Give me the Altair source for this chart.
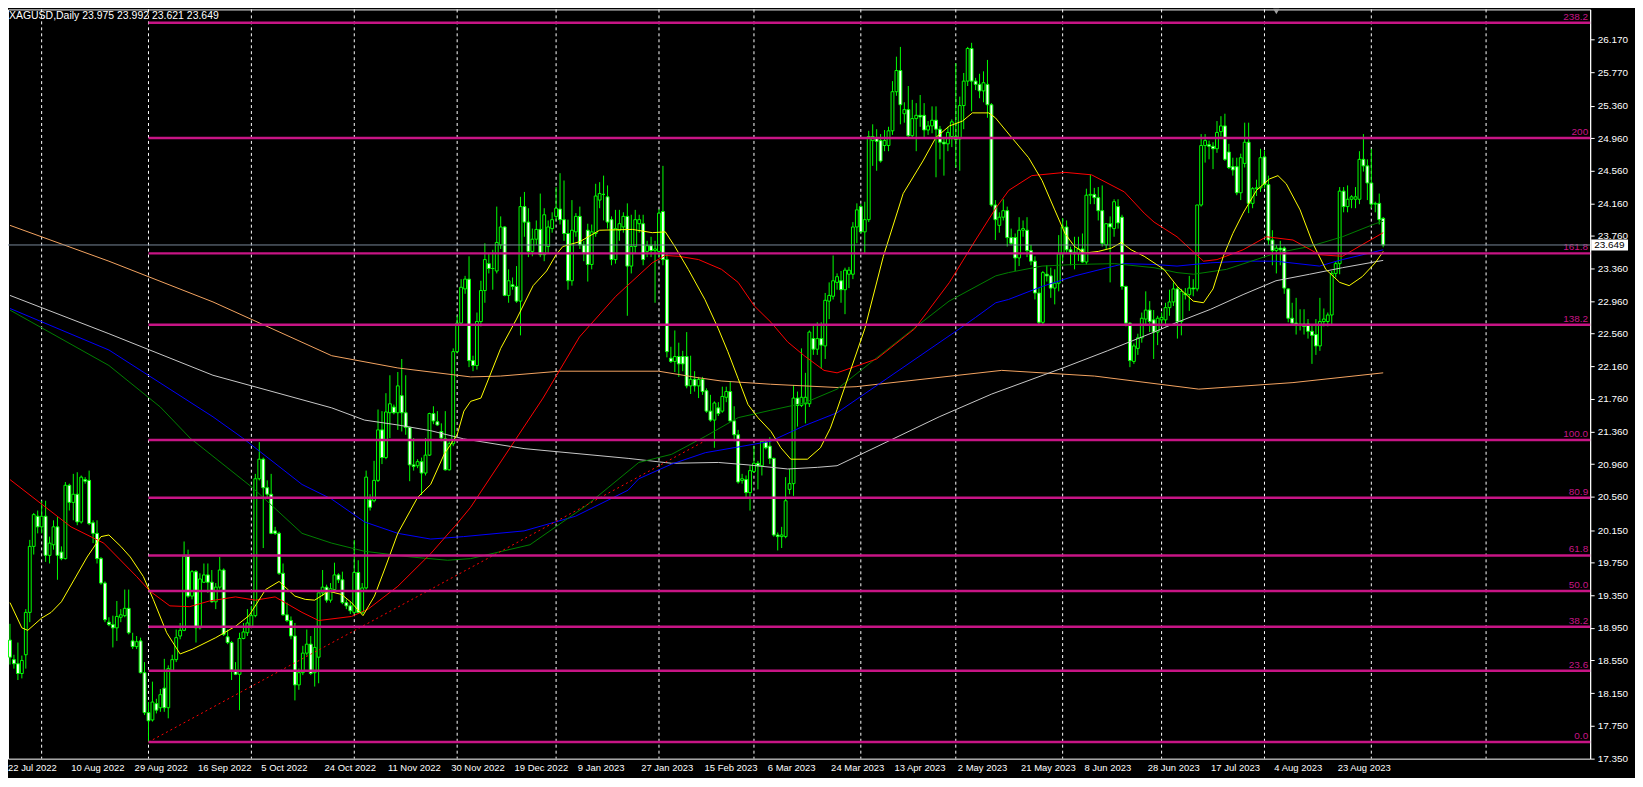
import altair as alt
import pandas as pd

symbol_header = "XAGUSD,Daily  23.975 23.992 23.621 23.649"

bar_open = [
18.80, 18.56, 18.51, 18.39, 18.62, 19.14, 19.95, 20.32, 20.19, 20.32,
19.84, 19.97, 20.19, 19.88, 19.80, 20.70, 20.49, 20.59, 20.25, 20.77,
20.76, 20.24, 20.11, 19.80, 19.50, 19.02, 18.99, 18.95, 19.08, 19.10,
19.19, 18.79, 18.72, 18.79, 18.40, 17.91, 17.82, 18.02, 17.97, 18.21,
17.97, 18.43, 18.56, 18.85, 18.92, 19.83, 19.34, 19.64, 18.95, 19.51,
19.60, 19.51, 19.27, 19.45, 19.66, 18.84, 18.77, 18.43, 18.38, 18.82,
18.89, 18.97, 19.10, 20.78, 21.02, 20.67, 20.59, 20.14, 20.11, 19.62,
19.11, 19.04, 18.85, 18.25, 18.40, 18.64, 18.75, 18.40, 18.59, 19.38,
19.45, 19.29, 19.42, 19.60, 19.54, 19.26, 19.22, 19.14, 19.63, 19.14,
19.44, 20.52, 20.51, 20.76, 21.38, 21.04, 21.59, 21.66, 21.59, 21.80,
21.59, 21.41, 20.95, 20.94, 20.99, 20.85, 21.07, 21.58, 21.48, 21.36,
21.27, 20.89, 21.21, 22.34, 22.69, 23.11, 23.23, 22.23, 22.17, 22.71,
23.09, 23.42, 23.36, 23.33, 23.65, 23.87, 23.03, 23.16, 23.14, 22.96,
24.12, 23.93, 23.57, 23.72, 23.84, 23.53, 23.63, 23.85, 24.00, 24.09,
23.96, 23.79, 23.21, 23.81, 24.00, 23.65, 23.83, 23.41, 23.79, 24.20,
24.27, 24.24, 23.96, 23.47, 23.83, 23.87, 24.00, 23.39, 23.63, 23.91,
23.91, 23.57, 23.64, 23.58, 23.57, 24.06, 23.47, 22.26, 22.22, 22.28,
22.28, 22.28, 21.92, 22.00, 21.92, 22.00, 21.86, 21.61, 21.50, 21.65,
21.61, 21.78, 21.85, 21.49, 21.32, 20.76, 20.77, 20.61, 20.87, 20.97,
20.94, 21.23, 21.18, 21.03, 20.09, 20.07, 20.07, 20.65, 20.72, 21.77,
21.68, 21.70, 21.70, 22.50, 22.37, 22.50, 22.41, 22.96, 23.02, 23.19,
23.21, 23.10, 23.29, 23.29, 23.87, 24.12, 23.81, 23.96, 24.93, 24.96,
24.93, 24.87, 24.87, 25.05, 25.53, 25.79, 25.26, 25.31, 24.99, 25.20,
25.24, 25.24, 25.06, 25.11, 25.18, 25.07, 24.91, 24.89, 24.98, 24.98,
24.95, 25.36, 25.66, 26.06, 25.66, 25.62, 25.54, 25.62, 25.37, 24.14,
23.89, 23.99, 24.07, 23.74, 23.74, 23.49, 23.83, 23.83, 23.58, 23.45,
23.06, 22.70, 23.29, 23.27, 23.12, 23.18, 23.54, 23.87, 23.59, 23.56,
23.54, 23.60, 23.44, 24.26, 24.27, 24.23, 24.07, 23.65, 23.91, 23.85,
24.12, 23.99, 23.14, 22.69, 22.22, 22.38, 22.51, 22.74, 22.85, 22.73,
22.58, 22.73, 22.73, 22.88, 22.95, 23.11, 22.71, 23.05, 23.04, 23.12,
23.11, 24.14, 24.87, 24.88, 24.86, 24.83, 25.04, 25.11, 24.79, 24.61,
24.61, 24.29, 24.65, 24.91, 24.16, 24.34, 24.35, 24.73, 24.39, 23.71,
23.58, 23.61, 23.61, 23.11, 22.75, 22.69, 22.67, 22.68, 22.68, 22.59,
22.55, 22.41, 22.71, 22.71, 22.79, 23.30, 23.42, 24.31, 24.12, 24.21,
24.21, 24.21, 24.70, 24.62, 24.41, 24.15, 24.16, 23.975]

bar_high = [
19.00, 18.62, 18.77, 18.61, 19.18, 20.03, 20.36, 20.39, 20.51, 20.51,
20.07, 20.27, 20.31, 19.95, 20.74, 20.72, 20.84, 20.86, 20.82, 20.80,
20.88, 20.27, 20.27, 19.82, 19.52, 19.08, 19.10, 19.28, 19.18, 19.42,
19.42, 18.89, 18.85, 18.83, 18.53, 18.04, 18.29, 18.08, 18.20, 18.57,
18.49, 18.62, 18.93, 19.01, 20.01, 19.91, 19.66, 19.66, 19.62, 19.74,
19.74, 19.66, 19.50, 19.82, 19.68, 18.93, 18.79, 18.53, 18.89, 19.01,
19.18, 19.22, 20.84, 21.23, 21.04, 20.76, 20.84, 20.19, 20.13, 19.74,
19.26, 19.09, 19.01, 18.45, 18.73, 18.93, 18.85, 18.97, 19.38, 19.66,
19.48, 19.50, 19.75, 19.62, 19.64, 19.30, 19.27, 20.03, 19.78, 19.50,
20.88, 20.59, 21.00, 21.63, 21.61, 21.83, 22.05, 21.69, 22.09, 22.25,
22.05, 21.42, 21.28, 21.02, 21.04, 21.28, 21.59, 21.67, 21.61, 21.46,
21.61, 21.24, 22.38, 22.78, 23.23, 23.27, 23.51, 22.29, 22.82, 23.21,
23.67, 23.55, 23.59, 24.12, 24.00, 23.88, 23.35, 23.25, 23.39, 24.24,
24.30, 24.10, 23.85, 23.95, 24.28, 24.10, 23.95, 24.05, 24.36, 24.53,
24.44, 23.96, 24.20, 24.04, 24.12, 23.70, 23.91, 23.90, 24.40, 24.42,
24.50, 24.38, 24.00, 24.08, 24.08, 24.05, 24.16, 24.02, 24.08, 24.02,
24.02, 23.70, 23.75, 23.70, 24.09, 24.62, 23.55, 22.40, 22.60, 22.45,
22.35, 22.58, 22.29, 22.10, 22.03, 22.03, 21.89, 21.81, 21.73, 21.72,
21.91, 21.91, 21.97, 21.67, 21.38, 20.84, 20.82, 20.94, 21.18, 21.00,
21.26, 21.26, 21.29, 21.04, 20.12, 20.19, 20.80, 20.90, 21.93, 21.85,
22.38, 22.08, 22.60, 22.66, 22.70, 22.70, 23.06, 23.19, 23.52, 23.30,
23.33, 23.37, 23.38, 23.93, 24.16, 24.15, 24.18, 25.05, 25.13, 25.07,
25.01, 25.06, 25.10, 25.66, 25.96, 26.08, 25.40, 25.60, 25.43, 25.39,
25.49, 25.39, 25.17, 25.35, 25.35, 25.11, 24.97, 25.10, 25.19, 25.88,
25.47, 25.76, 26.08, 26.13, 25.70, 25.75, 25.78, 25.92, 25.39, 24.20,
24.05, 24.21, 24.12, 23.85, 23.79, 23.99, 23.95, 23.99, 23.65, 23.51,
23.12, 23.33, 23.40, 23.37, 23.35, 23.77, 23.98, 23.95, 23.63, 23.75,
23.75, 23.79, 24.34, 24.51, 24.35, 24.36, 24.38, 23.91, 24.00, 24.21,
24.21, 24.02, 23.15, 22.70, 22.44, 22.56, 22.82, 23.08, 22.96, 22.85,
22.78, 22.82, 22.94, 23.10, 23.19, 23.14, 23.11, 23.12, 23.27, 23.23,
24.14, 25.01, 25.01, 24.93, 24.91, 25.17, 25.23, 25.26, 24.89, 24.72,
24.72, 24.77, 25.15, 25.15, 24.36, 24.45, 24.83, 24.81, 24.50, 23.83,
23.65, 23.70, 23.63, 23.12, 22.94, 23.00, 22.86, 22.86, 22.74, 22.68,
22.74, 23.00, 22.87, 22.82, 23.33, 23.45, 24.36, 24.36, 24.38, 24.26,
24.36, 24.80, 25.01, 24.70, 24.83, 24.18, 24.28, 23.992]

bar_low = [
18.50, 18.45, 18.31, 18.33, 18.45, 19.02, 19.85, 20.11, 20.11, 19.76,
19.74, 19.91, 19.54, 19.78, 19.79, 20.39, 20.27, 20.21, 20.23, 20.72,
20.21, 19.99, 19.74, 19.48, 19.02, 18.97, 18.71, 18.79, 19.02, 19.08,
18.87, 18.69, 18.69, 18.39, 17.88, 17.55, 17.80, 17.90, 17.92, 17.92,
17.84, 18.41, 18.53, 18.81, 18.91, 19.32, 19.30, 18.77, 18.93, 19.50,
19.38, 19.26, 19.18, 19.42, 18.85, 18.75, 18.31, 18.37, 17.94, 18.81,
18.85, 18.95, 19.08, 20.76, 19.93, 20.55, 20.10, 20.09, 19.60, 19.10,
19.02, 18.81, 18.06, 18.19, 18.37, 18.61, 18.37, 18.23, 18.27, 19.34,
19.26, 19.26, 19.38, 19.50, 19.24, 19.18, 19.12, 19.12, 19.13, 19.12,
19.42, 20.39, 20.49, 20.74, 20.96, 21.02, 21.28, 21.57, 21.38, 21.36,
21.32, 20.75, 20.88, 20.91, 20.58, 20.82, 21.06, 21.45, 21.43, 21.24,
20.88, 20.88, 21.18, 22.32, 22.66, 23.05, 22.15, 22.10, 22.12, 22.65,
22.94, 23.30, 23.10, 23.30, 23.60, 23.02, 22.94, 23.10, 22.94, 22.54,
23.75, 23.50, 23.51, 23.65, 23.50, 23.45, 23.55, 23.80, 23.95, 23.90,
23.70, 23.10, 23.15, 23.75, 23.60, 23.45, 23.20, 23.35, 23.75, 24.10,
23.95, 23.85, 23.40, 23.42, 23.70, 23.80, 22.78, 23.30, 23.55, 23.80,
23.40, 23.50, 23.50, 22.94, 23.50, 23.40, 22.27, 22.20, 22.09, 22.03,
22.10, 21.89, 21.82, 21.85, 21.77, 21.81, 21.59, 21.48, 21.16, 21.55,
21.59, 21.72, 21.48, 21.24, 20.72, 20.72, 20.55, 20.39, 20.85, 20.65,
20.82, 21.14, 20.96, 20.07, 19.90, 19.93, 20.05, 20.59, 20.57, 21.42,
21.66, 21.46, 21.66, 22.30, 22.30, 22.13, 22.25, 22.74, 22.98, 23.10,
22.94, 22.80, 23.12, 23.23, 23.67, 23.79, 23.55, 23.93, 24.62, 24.56,
24.66, 24.80, 24.80, 25.00, 25.48, 25.13, 25.15, 24.97, 24.95, 24.80,
25.10, 24.95, 25.00, 25.02, 24.48, 24.70, 24.50, 24.80, 24.85, 24.60,
24.56, 25.07, 25.60, 25.29, 25.55, 25.45, 25.40, 25.21, 24.12, 23.71,
23.80, 23.95, 23.63, 23.65, 23.33, 23.39, 23.75, 23.50, 23.40, 22.98,
22.66, 22.66, 23.20, 23.00, 22.92, 23.08, 23.45, 23.55, 23.40, 23.35,
23.45, 23.43, 23.41, 24.15, 24.15, 23.95, 23.63, 23.60, 23.19, 23.75,
23.85, 23.10, 22.65, 22.15, 22.19, 22.30, 22.45, 22.68, 22.58, 22.25,
22.42, 22.65, 22.65, 22.78, 22.90, 22.50, 22.54, 22.98, 22.84, 23.02,
23.08, 24.12, 24.66, 24.70, 24.58, 24.78, 24.98, 24.68, 24.58, 24.50,
24.26, 24.20, 24.60, 24.04, 24.10, 24.25, 24.30, 24.35, 23.65, 23.40,
23.30, 23.40, 23.05, 22.70, 22.68, 22.55, 22.60, 22.55, 22.50, 22.19,
22.30, 22.35, 22.65, 22.65, 22.66, 23.25, 23.29, 24.05, 24.05, 24.10,
24.10, 24.15, 24.55, 24.20, 24.10, 24.05, 23.90, 23.621]

bar_close = [
18.59, 18.51, 18.39, 18.55, 19.14, 19.95, 20.34, 20.19, 20.32, 19.84,
19.99, 20.19, 19.84, 19.80, 20.70, 20.49, 20.59, 20.25, 20.80, 20.75,
20.23, 20.11, 19.80, 19.50, 19.05, 18.99, 18.95, 19.09, 19.11, 19.19,
18.89, 18.72, 18.78, 18.40, 17.91, 17.81, 18.04, 17.94, 18.13, 17.97,
18.45, 18.56, 18.83, 18.92, 19.83, 19.34, 19.64, 18.95, 19.55, 19.60,
19.51, 19.27, 19.45, 19.66, 18.87, 18.77, 18.43, 18.38, 18.82, 18.90,
19.01, 19.10, 20.78, 21.02, 20.67, 20.59, 20.11, 20.11, 19.62, 19.11,
19.04, 18.85, 18.25, 18.40, 18.64, 18.75, 18.39, 18.71, 19.38, 19.45,
19.29, 19.43, 19.60, 19.54, 19.26, 19.22, 19.16, 19.63, 19.14, 19.44,
20.80, 20.43, 20.76, 21.38, 21.04, 21.60, 21.70, 21.59, 21.92, 21.59,
21.41, 20.95, 20.93, 20.99, 20.85, 21.07, 21.58, 21.49, 21.44, 21.28,
20.89, 21.21, 22.34, 22.69, 23.13, 23.23, 22.23, 22.17, 22.71, 23.09,
23.47, 23.36, 23.36, 23.68, 23.87, 23.03, 23.21, 23.14, 22.96, 24.12,
23.93, 23.57, 23.72, 23.84, 23.53, 24.02, 23.87, 23.96, 24.10, 23.96,
23.79, 23.21, 23.83, 24.00, 23.65, 23.55, 23.41, 23.81, 24.25, 24.28,
24.27, 23.93, 23.47, 23.85, 23.91, 24.00, 23.39, 23.63, 23.96, 23.96,
23.47, 23.64, 23.58, 23.60, 24.04, 23.47, 22.34, 22.22, 22.28, 22.19,
22.19, 21.92, 22.00, 21.92, 22.00, 21.85, 21.61, 21.50, 21.71, 21.58,
21.79, 21.85, 21.49, 21.32, 20.74, 20.78, 20.61, 20.88, 20.97, 20.94,
21.24, 21.16, 21.03, 20.09, 20.07, 20.09, 20.51, 20.72, 21.77, 21.68,
21.78, 21.78, 22.58, 22.37, 22.50, 22.42, 22.97, 23.03, 23.21, 23.26,
23.10, 23.34, 23.34, 23.87, 24.08, 23.81, 23.96, 24.98, 24.98, 24.92,
24.68, 24.93, 25.05, 25.53, 25.79, 25.37, 25.31, 24.99, 25.20, 25.24,
25.22, 25.06, 25.11, 25.18, 25.07, 24.91, 24.89, 25.03, 25.16, 24.94,
25.36, 25.66, 26.06, 25.66, 25.62, 25.54, 25.64, 25.37, 24.14, 23.96,
23.99, 24.07, 23.74, 23.67, 23.49, 23.83, 23.85, 23.58, 23.45, 23.06,
22.70, 23.31, 23.27, 23.12, 23.18, 23.54, 23.87, 23.59, 23.56, 23.54,
23.60, 23.44, 24.26, 24.27, 24.23, 24.07, 23.67, 23.91, 23.87, 24.18,
23.92, 23.14, 22.69, 22.23, 22.41, 22.51, 22.75, 22.85, 22.71, 22.58,
22.75, 22.76, 22.88, 22.95, 23.11, 22.71, 23.08, 23.04, 23.12, 23.11,
24.14, 24.87, 24.93, 24.86, 24.83, 25.03, 25.11, 24.70, 24.60, 24.57,
24.29, 24.72, 24.91, 24.16, 24.34, 24.35, 24.72, 24.39, 23.71, 23.58,
23.61, 23.59, 23.12, 22.75, 22.69, 22.67, 22.68, 22.65, 22.59, 22.54,
22.41, 22.71, 22.74, 22.79, 23.30, 23.42, 24.31, 24.12, 24.21, 24.24,
24.24, 24.70, 24.62, 24.41, 24.15, 24.16, 23.96, 23.649]

date_labels = ["22 Jul 2022", "10 Aug 2022", "29 Aug 2022", "16 Sep 2022", "5 Oct 2022",
               "24 Oct 2022", "11 Nov 2022", "30 Nov 2022", "19 Dec 2022", "9 Jan 2023",
               "27 Jan 2023", "15 Feb 2023", "6 Mar 2023", "24 Mar 2023", "13 Apr 2023",
               "2 May 2023", "21 May 2023", "8 Jun 2023", "28 Jun 2023", "17 Jul 2023",
               "4 Aug 2023", "23 Aug 2023"]
bars_per_label = 16
month_first_bars = [8, 35, 61, 87, 113, 138, 164, 188, 215, 239, 266, 291, 317, 344, 373]

fib_names = ["0.0", "23.6", "38.2", "50.0", "61.8", "80.9", "100.0", "138.2", "161.8", "200", "238.2"]
fib_prices = [17.549, 18.424, 18.964, 19.402, 19.839, 20.547, 21.255, 22.671, 23.546, 24.961, 26.377]
fib_anchor_bar = 35

trend_bars = [35, 176]
trend_prices = [17.549, 21.255]

ma_yellow = [(0, 19.26), (3, 18.95), (4.5, 18.92), (8, 19.07), (10.4, 19.14), (13, 19.27), (16.2, 19.54),
             (19.5, 19.82), (23, 20.07), (25, 20.09), (28, 19.95), (30.4, 19.82), (33.7, 19.58), (36.2, 19.30),
             (39.6, 18.89), (43, 18.63), (46.2, 18.69), (52, 18.83), (57, 18.97), (60.4, 19.10), (64.6, 19.42),
             (68, 19.52), (72, 19.34), (74.6, 19.30), (77, 19.29), (80.5, 19.40), (83.8, 19.36), (86.3, 19.26),
             (89.2, 19.10), (92.1, 19.34), (94.6, 19.66), (98, 20.11), (103, 20.55), (106.3, 20.71), (109.7, 21.08),
             (113, 21.32), (114.7, 21.61), (116.4, 21.73), (119, 21.77), (124, 22.38), (128, 22.74), (132.2, 23.15),
             (135.6, 23.33), (138, 23.53), (139.7, 23.63), (144, 23.69), (149, 23.83), (157.3, 23.84), (162.3, 23.80),
             (165.6, 23.81), (168, 23.63), (171.4, 23.35), (175.6, 22.98), (179, 22.62), (181.4, 22.34), (184, 22.01),
             (186.5, 21.69), (189, 21.53), (192.3, 21.36), (194.8, 21.16), (197.3, 21.02), (201.5, 21.02),
             (204.8, 21.16), (207.3, 21.40), (209, 21.63), (216, 22.62), (220.7, 23.51), (225.7, 24.28),
             (230.7, 24.68), (234, 24.97), (237.4, 25.11), (240.7, 25.17), (243.2, 25.27), (247.3, 25.27),
             (249, 25.21), (252.4, 25.01), (257.4, 24.72), (260.8, 24.44), (264, 24.08), (266.6, 23.79),
             (269, 23.63), (271.6, 23.55), (275, 23.57), (278.3, 23.61), (280.8, 23.68), (283.3, 23.59),
             (286.6, 23.51), (291.6, 23.35), (295, 23.14), (299, 22.96), (301.6, 22.94), (304, 23.11),
             (306.6, 23.51), (309, 23.79), (311.6, 24.04), (315, 24.32), (318.3, 24.46), (320.4, 24.50),
             (322.5, 24.40), (326, 24.08), (329.2, 23.67), (332.5, 23.35), (336, 23.19), (338.4, 23.15),
             (341.7, 23.26), (345, 23.43), (347, 23.57)]

ma_red = [(0, 20.77), (15.4, 20.19), (23.7, 19.99), (32, 19.58), (35.4, 19.40), (40.4, 19.22), (45.4, 19.21),
          (50.4, 19.28), (57, 19.33), (62, 19.29), (67, 19.33), (73.8, 19.14), (78, 19.04), (86.3, 19.09),
          (90.5, 19.18), (98, 19.46), (106.3, 19.86), (113, 20.23), (116.4, 20.43), (134.7, 21.77), (143.9, 22.52),
          (153.1, 23.02), (162.3, 23.43), (165.6, 23.52), (169, 23.51), (174, 23.47), (179.8, 23.35), (184, 23.19),
          (188.1, 22.90), (192.3, 22.70), (196.5, 22.46), (200.7, 22.29), (205.7, 22.11), (209, 22.08),
          (219, 22.25), (228.6, 22.62), (237.4, 23.19), (244, 23.71), (249.1, 24.10), (252.4, 24.32),
          (258.2, 24.50), (266.6, 24.54), (273.3, 24.51), (281.6, 24.30), (286.6, 24.04), (289.1, 23.93),
          (294.9, 23.75), (301.6, 23.45), (305, 23.47), (311.6, 23.59), (317.5, 23.75), (324.2, 23.71),
          (330.9, 23.53), (336.7, 23.51), (340.9, 23.63), (347, 23.80)]

ma_green = [(0, 22.85), (25, 22.17), (38, 21.66), (45.5, 21.28), (61.3, 20.67), (73.8, 20.11), (81.3, 19.99),
            (89.6, 19.89), (101.3, 19.82), (110.6, 19.78), (116.4, 19.80), (131.4, 19.97), (145.6, 20.45),
            (158.9, 20.98), (167.2, 21.08), (175.7, 21.30), (184, 21.53), (192.2, 21.62), (200.7, 21.71),
            (209, 21.88), (228.3, 22.62), (237.3, 22.96), (249.1, 23.27), (252.3, 23.31), (260.8, 23.39),
            (269.1, 23.41), (279.1, 23.42), (289.1, 23.37), (294.9, 23.31), (299.1, 23.29), (307.4, 23.35),
            (319.9, 23.55), (328.4, 23.63), (336.7, 23.75), (345, 23.91), (347, 23.94)]

ma_blue = [(0, 22.87), (25, 22.36), (51.3, 21.54), (58.8, 21.28), (73.8, 20.71), (81.3, 20.53), (89.6, 20.25),
           (98, 20.11), (106.3, 20.04), (114.6, 20.07), (129.9, 20.14), (142.9, 20.32), (156.2, 20.64),
           (158.9, 20.78), (167.2, 20.96), (175.7, 21.10), (184, 21.17), (192.2, 21.24), (200.7, 21.43),
           (209, 21.59), (239.9, 22.62), (244, 22.76), (249.1, 22.94), (252.3, 22.98), (260.8, 23.14),
           (269.1, 23.27), (277.3, 23.37), (281.6, 23.42), (289.1, 23.41), (294.9, 23.39), (303.4, 23.43),
           (311.6, 23.45), (319.9, 23.45), (330.9, 23.39), (336.7, 23.47), (347, 23.59)]

ma_white = [(0, 23.03), (25, 22.56), (51.3, 22.05), (81.3, 21.65), (89.6, 21.50), (98, 21.44), (106.3, 21.37),
            (114.6, 21.27), (129.9, 21.15), (156.2, 21.03), (167.2, 20.97), (179, 20.98), (186.5, 20.95),
            (196.5, 20.90), (204, 20.92), (209, 20.94), (234.8, 21.54), (248.1, 21.82), (266.6, 22.15),
            (277.3, 22.35), (289.1, 22.58), (294.9, 22.70), (303.4, 22.86), (311.6, 23.04), (319.9, 23.21),
            (328.4, 23.29), (336.7, 23.37), (347, 23.46)]

ma_orange = [(0, 23.89), (25, 23.45), (51.3, 22.95), (81.3, 22.29), (98, 22.14), (116.4, 22.03), (123.9, 22.04),
             (138.9, 22.10), (163.9, 22.10), (173.9, 22.02), (179.7, 21.98), (192.2, 21.94), (209, 21.90),
             (213.8, 21.91), (250.6, 22.11), (274.1, 22.04), (300.4, 21.88), (324.2, 21.96), (347, 22.08)]

price_ticks = [17.35, 17.75, 18.15, 18.55, 18.95, 19.35, 19.75, 20.15, 20.56, 20.96, 21.36, 21.76,
               22.16, 22.56, 22.96, 23.36, 23.76, 24.16, 24.56, 24.96, 25.36, 25.77, 26.17]
last_price = 23.649

# ---------------- layout / styling ----------------
W, H = 1588, 752
FONT = "Liberation Sans"
CANDLE = "#00FF00"
FIB = "#C71585"

xs = alt.Scale(domain=[-0.5, 399.3], nice=False, zero=False)
ys = alt.Scale(domain=[17.345, 26.54], nice=False, zero=False)
yaxis = alt.Axis(orient="right", values=price_ticks, format=".3f", labelColor="white",
                 tickColor="white", domainColor="white", tickSize=4, labelFontSize=10,
                 labelFont=FONT, labelPadding=3, grid=False, labelOverlap=False,
                 labelFlush=False, title=None)


def Y(field):
    return alt.Y(field, scale=ys, axis=yaxis)


def X(field):
    return alt.X(field, scale=xs, axis=None)


n = len(bar_close)
assert len(bar_open) == len(bar_high) == len(bar_low) == n
candles = pd.DataFrame({"i": list(range(n)), "o": bar_open, "h": bar_high,
                        "l": bar_low, "c": bar_close})
candles["x0"] = candles["i"] - 0.36
candles["x1"] = candles["i"] + 0.36

grid_df = pd.DataFrame({"i": month_first_bars})
grid = alt.Chart(grid_df).mark_rule(color="white", strokeDash=[3, 3], strokeWidth=1).encode(
    x=X("i:Q"), y=alt.value(0), y2=alt.value(H))

wicks = alt.Chart(candles).mark_rule(color=CANDLE, strokeWidth=1).encode(
    x=X("i:Q"), y=Y("h:Q"), y2="l:Q")

bodies = alt.Chart(candles).mark_rect(stroke=CANDLE, strokeWidth=1).encode(
    x=X("x0:Q"), x2="x1:Q", y=Y("o:Q"), y2="c:Q",
    fill=alt.condition("datum.c < datum.o", alt.value("white"), alt.value("black")))

ma_rows = []
for name, pts in [("orange", ma_orange), ("white", ma_white), ("blue", ma_blue),
                  ("green", ma_green), ("red", ma_red), ("yellow", ma_yellow)]:
    for k, (bi, pv) in enumerate(pts):
        ma_rows.append({"ma": name, "i": bi, "p": pv, "k": k})
ma_df = pd.DataFrame(ma_rows)
ma_lines = alt.Chart(ma_df).mark_line(strokeWidth=1).encode(
    x=X("i:Q"), y=Y("p:Q"), order="k:Q",
    color=alt.Color("ma:N", legend=None, scale=alt.Scale(
        domain=["orange", "white", "blue", "green", "red", "yellow"],
        range=["#F4A460", "#C8C8C8", "#0000FF", "#008000", "#FF0000", "#FFFF00"])))

trend_df = pd.DataFrame({"i": trend_bars, "p": trend_prices})
trend = alt.Chart(trend_df).mark_line(color="#FF0000", strokeWidth=1, strokeDash=[2, 3]).encode(
    x=X("i:Q"), y=Y("p:Q"))

fib_df = pd.DataFrame({"n": fib_names, "p": fib_prices, "a": [fib_anchor_bar] * len(fib_names)})
fib_lines = alt.Chart(fib_df).mark_rule(color=FIB, strokeWidth=2.5).encode(
    x=X("a:Q"), x2=alt.value(W), y=Y("p:Q"))
fib_text = alt.Chart(fib_df).mark_text(align="right", baseline="bottom", dy=-1, color=FIB,
                                       fontSize=10, font=FONT).encode(
    x=alt.value(W - 2), y=Y("p:Q"), text="n:N")

bid_df = pd.DataFrame({"p": [last_price], "t": [f"{last_price:.3f}"]})
bid_line = alt.Chart(bid_df).mark_rule(color="#778899", strokeWidth=1).encode(
    x=alt.value(0), x2=alt.value(W), y=Y("p:Q"))
bid_box = alt.Chart(bid_df).transform_calculate(
    top="datum.p + 0.068", bot="datum.p - 0.068").mark_rect(color="white").encode(
    x=alt.value(W + 1), x2=alt.value(W + 38), y=Y("top:Q"), y2="bot:Q")
bid_text = alt.Chart(bid_df).mark_text(align="left", baseline="middle", color="black",
                                       fontSize=10, font=FONT).encode(
    x=alt.value(W + 4), y=Y("p:Q"), text="t:N")

lab_df = pd.DataFrame({"i": [k * bars_per_label for k in range(len(date_labels))], "t": date_labels})
date_text = alt.Chart(lab_df).mark_text(align="left", baseline="top", dx=-2, color="white",
                                        fontSize=9.5, font=FONT).encode(
    x=X("i:Q"), y=alt.value(H + 4), text="t:N")

head_df = pd.DataFrame({"t": [symbol_header]})
header = alt.Chart(head_df).mark_text(align="left", baseline="middle", color="white",
                                      fontSize=10.5, font=FONT).encode(
    x=alt.value(1), y=alt.value(7), text="t:N")

shift_df = pd.DataFrame({"a": [0]})
shift_marker = alt.Chart(shift_df).mark_point(shape="triangle-down", filled=True, color="#A0A0A0",
                                              size=40, opacity=1).encode(
    x=alt.value(1273), y=alt.value(2))

chart = alt.layer(
    grid, wicks, bodies, ma_lines, trend, fib_lines, fib_text, bid_line,
    bid_box, bid_text, date_text, header, shift_marker
).properties(
    width=W, height=H,
    padding={"left": 0, "top": 0, "right": 45, "bottom": 18},
    autosize=alt.AutoSizeParams(type="none"),
).configure(background="black").configure_view(stroke="white", strokeWidth=1)

chart.save("out.html", embed_options={"renderer": "svg", "actions": False})
